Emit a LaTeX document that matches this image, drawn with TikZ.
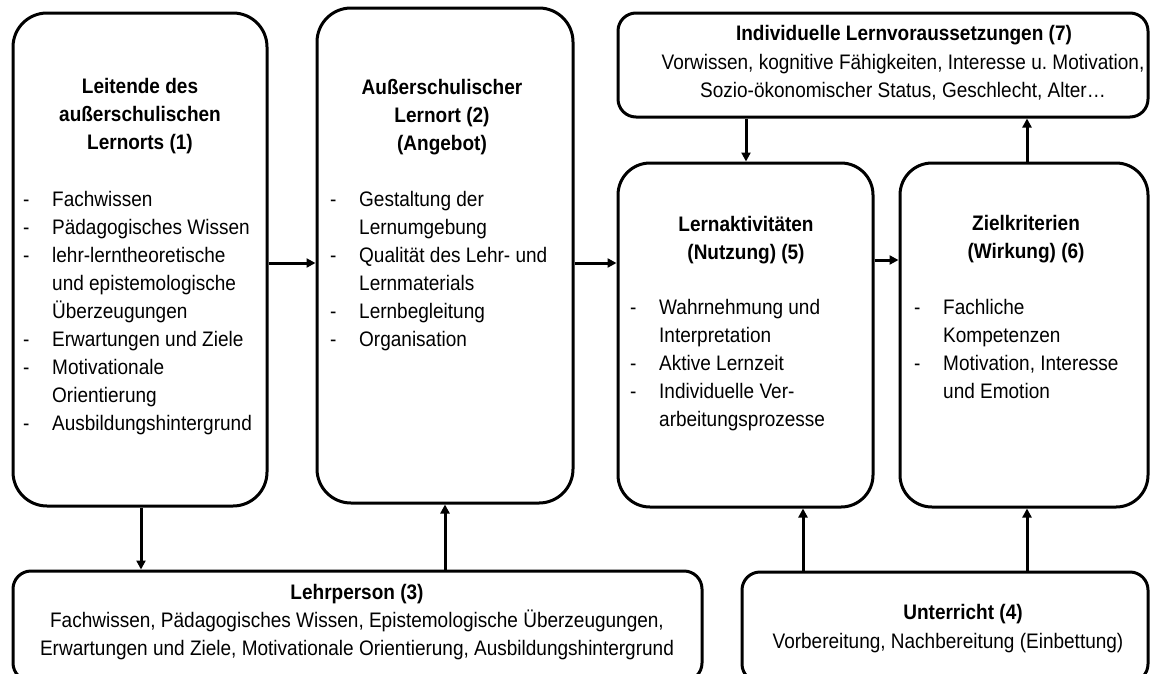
\documentclass[tikz,border=0pt]{standalone}
\usepackage{fontspec}
\setmainfont{Liberation Sans}[FakeStretch=0.905]
\usetikzlibrary{arrows.meta}
\frenchspacing
\newcommand\bul{\makebox[29pt][l]{-}}
\newcommand\ind{\hspace*{29pt}}
\newcommand\myC[1]{\begin{tabular}[t]{@{}c@{}}#1\end{tabular}}
\newcommand\myL[1]{\begin{tabular}[t]{@{}l@{}}#1\end{tabular}}
\begin{document}
\begin{tikzpicture}[x=1pt,y=-1pt,
  bigbox/.style={draw, line width=3pt, rounded corners=34pt, inner sep=0pt},
  smallbox/.style={draw, line width=3pt, rounded corners=18pt, inner sep=0pt},
  arr/.style={line width=3pt, -{Triangle[length=9pt,width=9pt]}},
  ttl/.style={font=\fontsize{21}{28}\selectfont\bfseries, anchor=base, inner sep=0pt},
  body/.style={font=\fontsize{21}{28}\selectfont, anchor=base west, inner sep=0pt},
  cbody/.style={font=\fontsize{21}{28.5}\selectfont, anchor=base, inner sep=0pt}]
\useasboundingbox (0,0) rectangle (1151,673);
\clip (0,0) rectangle (1151,673);
% boxes
\node[bigbox, minimum width=254pt, minimum height=493pt] (b1) at (140,259.5) {};
\node[bigbox, minimum width=256pt, minimum height=495pt] (b2) at (445,255.5) {};
\node[smallbox, minimum width=530pt, minimum height=104pt] (b7) at (883,65) {};
\node[bigbox, rounded corners=32pt, minimum width=255pt, minimum height=344pt] (b5) at (745.5,335) {};
\node[bigbox, rounded corners=32pt, minimum width=248pt, minimum height=344pt] (b6) at (1024,335) {};
\node[smallbox, minimum width=689pt, minimum height=110pt] (b3) at (357.5,626) {};
\node[smallbox, minimum width=406pt, minimum height=110pt] (b4) at (945,627) {};
% texts
\node[ttl] (t1) at (140,93) {\myC{Leitende des\\außerschulischen\\Lernorts (1)}};
\node[body] (l1) at (23,206) {\myL{\bul Fachwissen\\\bul Pädagogisches Wissen\\\bul lehr-lerntheoretische\\\ind und epistemologische\\\ind Überzeugungen\\\bul Erwartungen und Ziele\\\bul Motivationale\\\ind Orientierung\\\bul Ausbildungshintergrund}};
\node[ttl] (t2) at (442,94) {\myC{Außerschulischer\\Lernort (2)\\(Angebot)}};
\node[body] (l2) at (330,206) {\myL{\bul Gestaltung der\\\ind Lernumgebung\\\bul Qualität des Lehr- und\\\ind Lernmaterials\\\bul Lernbegleitung\\\bul Organisation}};
\node[ttl] (t5) at (746,231) {\myC{Lernaktivitäten\\(Nutzung) (5)}};
\node[body] (l5) at (630,314) {\myL{\bul Wahrnehmung und\\\ind Interpretation\\\bul Aktive Lernzeit\\\bul Individuelle Ver-\\\ind arbeitungsprozesse}};
\node[ttl] (t6) at (1026,230) {\myC{Zielkriterien\\(Wirkung) (6)}};
\node[body] (l6) at (914,314) {\myL{\bul Fachliche\\\ind Kompetenzen\\\bul Motivation, Interesse\\\ind und Emotion}};
\node[ttl] (t7) at (904,40) {Individuelle Lernvoraussetzungen (7)};
\node[cbody] (l7) at (903,69) {\myC{Vorwissen, kognitive Fähigkeiten, Interesse u.\ Motivation,\\Sozio-ökonomischer Status, Geschlecht, Alter…}};
\node[ttl] (t3) at (357,599) {Lehrperson (3)};
\node[cbody] (l3) at (357,627) {\myC{Fachwissen, Pädagogisches Wissen, Epistemologische Überzeugungen,\\Erwartungen und Ziele, Motivationale Orientierung, Ausbildungshintergrund}};
\node[ttl] (t4) at (963,619) {Unterricht (4)};
\node[cbody] (l4) at (948,648) {Vorbereitung, Nachbereitung (Einbettung)};
% arrows
\coordinate (r1) at (0,263);
\coordinate (r2) at (0,260);
\coordinate (c1) at (746,0);
\coordinate (c2) at (1027,0);
\coordinate (c3) at (141,0);
\coordinate (c4) at (445,0);
\coordinate (c5) at (803,0);
\draw[arr] (b1.east |- r1) -- (b2.west |- r1);
\draw[arr] (b2.east |- r1) -- (b5.west |- r1);
\draw[arr] (b5.east |- r2) -- (b6.west |- r2);
\draw[arr] (b7.south -| c1) -- (b5.north -| c1);
\draw[arr] (b6.north -| c2) -- (b7.south -| c2);
\draw[arr] (b1.south -| c3) -- (b3.north -| c3);
\draw[arr] (b3.north -| c4) -- (b2.south -| c4);
\draw[arr] (b4.north -| c5) -- (b5.south -| c5);
\draw[arr] (b4.north -| c2) -- (b6.south -| c2);
\end{tikzpicture}
\end{document}
